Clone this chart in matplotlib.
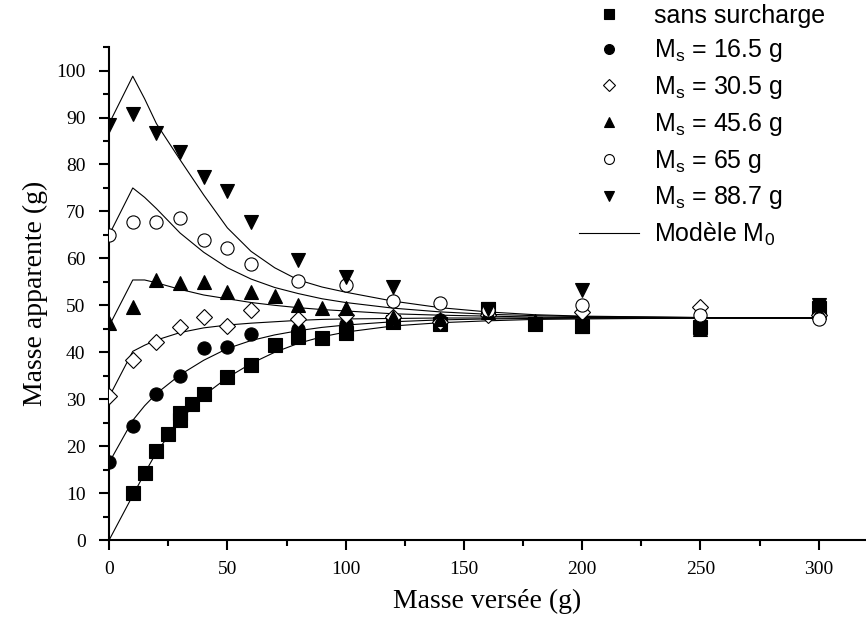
import matplotlib
matplotlib.use("Agg")
import matplotlib.pyplot as plt
from matplotlib.ticker import MultipleLocator

plt.rcParams["mathtext.fontset"] = "custom"
plt.rcParams["mathtext.rm"] = "Liberation Sans"
plt.rcParams["mathtext.it"] = "Liberation Sans"

# measured points
x0 = [10, 15, 20, 25, 30, 30, 35, 40, 50, 60, 70, 80, 90, 100, 120, 140, 160, 180, 200, 250, 300]
y0 = [10.0, 14.2, 19.0, 22.5, 25.6, 27.0, 28.9, 31.1, 34.7, 37.3, 41.6, 43.3, 43.1, 44.1, 46.5, 46.0, 49.3, 46.0, 45.5, 45.3, 49.5]

x16 = [0, 10, 20, 30, 40, 50, 60, 80, 100, 120, 140, 160, 200, 250, 300]
y16 = [16.6, 24.2, 31.1, 35.0, 40.9, 41.2, 43.8, 45.0, 46.0, 46.8, 46.8, 48.5, 46.0, 46.0, 47.5]

x30 = [0, 10, 20, 30, 40, 50, 60, 80, 100, 120, 140, 160, 200, 250, 300]
y30 = [30.6, 38.4, 42.1, 45.3, 47.6, 45.5, 49.0, 47.1, 48.0, 47.5, 46.5, 48.0, 48.6, 49.7, 48.0]

x45 = [0, 10, 20, 30, 40, 50, 60, 70, 80, 90, 100, 120, 140, 160, 180, 200, 250, 300]
y45 = [46.2, 49.6, 55.4, 54.7, 54.9, 52.9, 52.9, 51.9, 50.1, 49.4, 49.4, 47.5, 47.0, 48.5, 46.6, 45.5, 45.0, 48.5]

x65 = [0, 10, 20, 30, 40, 50, 60, 80, 100, 120, 140, 160, 200, 250, 300]
y65 = [65.0, 67.7, 67.7, 68.6, 64.0, 62.2, 58.8, 55.1, 54.4, 51.0, 50.4, 49.0, 50.0, 48.0, 47.0]

x88 = [0, 10, 20, 30, 40, 50, 60, 80, 100, 120, 160, 200, 300]
y88 = [88.5, 90.8, 86.7, 82.7, 77.3, 74.4, 67.7, 59.6, 56.0, 54.0, 49.3, 53.3, 50.0]

# model M0 curves
xm = [0, 10, 15, 20, 30, 40, 50, 60, 70, 80, 90, 100, 120, 140, 160, 180, 200, 250, 300]
m0 = [0, 9.5, 14.2, 18.7, 25.5, 30.8, 34.6, 37.6, 40.0, 41.9, 43.3, 44.3, 45.6, 46.3, 46.7, 47.0, 47.1, 47.3, 47.3]
m16 = [16.5, 25.5, 28.6, 31.2, 35.2, 38.3, 40.8, 42.5, 43.7, 44.6, 45.3, 45.8, 46.5, 46.9, 47.1, 47.2, 47.3, 47.3, 47.3]
m30 = [30.5, 40.2, 41.5, 42.6, 44.2, 45.2, 45.8, 46.2, 46.5, 46.8, 47.0, 47.1, 47.2, 47.3, 47.3, 47.3, 47.3, 47.3, 47.3]
m45 = [45.6, 55.4, 55.4, 54.8, 53.4, 52.2, 51.4, 50.6, 50.0, 49.5, 49.1, 48.8, 48.2, 47.9, 47.7, 47.5, 47.4, 47.3, 47.3]
m65 = [65.0, 75.0, 73.0, 70.6, 65.4, 61.3, 58.0, 55.6, 53.8, 52.5, 51.4, 50.6, 49.4, 48.6, 48.1, 47.8, 47.6, 47.4, 47.3]
m88 = [88.7, 98.8, 94.0, 88.7, 81.0, 73.5, 66.5, 61.5, 58.0, 55.4, 53.9, 52.8, 50.9, 49.5, 48.6, 48.0, 47.7, 47.4, 47.3]

series = [
    (x0, y0, "s", "k", "sans surcharge"),
    (x16, y16, "o", "k", r"M$_\mathrm{s}$ = 16.5 g"),
    (x30, y30, "D", "w", r"M$_\mathrm{s}$ = 30.5 g"),
    (x45, y45, "^", "k", r"M$_\mathrm{s}$ = 45.6 g"),
    (x65, y65, "o", "w", r"M$_\mathrm{s}$ = 65 g"),
    (x88, y88, "v", "k", r"M$_\mathrm{s}$ = 88.7 g"),
]

fig = plt.figure(figsize=(8.66, 6.28), dpi=100)
ax = fig.add_axes([0.126, 0.140, 0.874, 0.785])

for m in [m0, m16, m30, m45, m65, m88]:
    ax.plot(xm, m, "k-", linewidth=0.8, zorder=2,
            label=r"Modèle M$_\mathrm{0}$" if m is m0 else None)

for xs, ys, mk, fc, lab in series:
    ms = 8.5 if mk == "D" else 9.5
    ax.plot(xs, ys, linestyle="none", marker=mk, markersize=ms,
            markerfacecolor=fc, markeredgecolor="k", markeredgewidth=0.8,
            label=lab, zorder=3)

ax.set_xlim(0, 320)
ax.set_ylim(0, 105)
ax.xaxis.set_major_locator(MultipleLocator(50))
ax.xaxis.set_minor_locator(MultipleLocator(25))
ax.yaxis.set_major_locator(MultipleLocator(10))
ax.yaxis.set_minor_locator(MultipleLocator(5))
ax.spines["top"].set_visible(False)
ax.spines["right"].set_visible(False)
ax.spines["left"].set_linewidth(1.5)
ax.spines["bottom"].set_linewidth(1.5)
ax.tick_params(which="major", length=7, width=1.5, labelsize=14, pad=8)
ax.tick_params(axis="y", which="major", pad=10)
ax.tick_params(which="minor", length=4, width=1.5)
for t in ax.get_xticklabels() + ax.get_yticklabels():
    t.set_family("Liberation Serif")

ax.set_xlabel("Masse versée (g)", family="Liberation Serif", fontsize=20, labelpad=8)
ax.set_ylabel("Masse apparente (g)", family="Liberation Serif", fontsize=20, labelpad=6)

h, l = ax.get_legend_handles_labels()
order = [1, 2, 3, 4, 5, 6, 0]
leg = fig.legend([h[i] for i in order], [l[i] for i in order],
                 loc="upper left", bbox_to_anchor=(0.651, 1.018), frameon=False,
                 prop={"family": "Liberation Sans", "size": 18},
                 handlelength=2.4, handletextpad=0.6, labelspacing=0.39,
                 borderpad=0.1, markerscale=0.75)

fig.savefig("out.png", dpi=100)
